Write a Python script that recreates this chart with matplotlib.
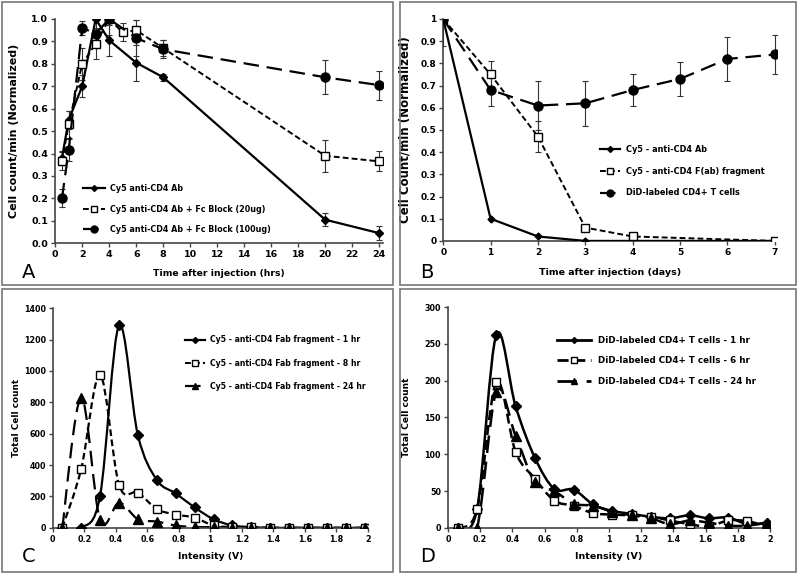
import numpy as np
import matplotlib
matplotlib.use("Agg")
from matplotlib import pyplot as plt
from matplotlib.path import Path
from matplotlib.patches import PathPatch, Rectangle
from matplotlib.lines import Line2D

plt.rcParams['font.family'] = ['DejaVu Sans']
plt.rcParams['font.weight'] = 'bold'

# ---- panel A: hours
a_x1 = [0.5, 1, 2, 3, 4, 6, 8, 20, 24]
a_y1 = [0.38, 0.55, 0.70, 1.0, 0.905, 0.805, 0.74, 0.105, 0.045]
a_e1 = [0.03, 0.04, 0.05, 0.0, 0.07, 0.08, 0.015, 0.03, 0.03]
a_x2 = [0.5, 1, 2, 3, 4, 5, 6, 8, 20, 24]
a_y2 = [0.365, 0.53, 0.80, 0.89, 1.0, 0.94, 0.95, 0.87, 0.39, 0.365]
a_e2 = [0.04, 0.06, 0.07, 0.07, 0.0, 0.04, 0.045, 0.035, 0.072, 0.045]
a_x3 = [0.5, 1, 2, 3, 4, 6, 8, 20, 24]
a_y3 = [0.20, 0.415, 0.96, 0.935, 1.0, 0.915, 0.865, 0.74, 0.705]
a_e3 = [0.04, 0.05, 0.03, 0.06, 0.07, 0.08, 0.04, 0.075, 0.065]
a_labels = ["Cy5 anti-CD4 Ab", "Cy5 anti-CD4 Ab + Fc Block (20ug)",
            "Cy5 anti-CD4 Ab + Fc Block (100ug)"]

# ---- panel B: days
b_x1 = [0, 1, 2, 3, 7]
b_y1 = [1.0, 0.10, 0.02, 0.0, 0.0]
b_x2 = [0, 1, 2, 3, 4, 7]
b_y2 = [1.0, 0.75, 0.47, 0.06, 0.02, 0.0]
b_e2 = [0.0, 0.06, 0.07, 0.0, 0.0, 0.0]
b_x3 = [0, 1, 2, 3, 4, 5, 6, 7]
b_y3 = [1.0, 0.68, 0.61, 0.62, 0.68, 0.73, 0.82, 0.84]
b_e3 = [0.12, 0.07, 0.11, 0.10, 0.07, 0.075, 0.10, 0.09]
b_labels = ["Cy5 - anti-CD4 Ab", "Cy5 - anti-CD4 F(ab) fragment",
            "DiD-labeled CD4+ T cells"]

# ---- panels C, D: intensity histograms
volts = [0.06, 0.18, 0.30, 0.42, 0.54, 0.66, 0.78, 0.90, 1.02, 1.14,
         1.26, 1.38, 1.50, 1.62, 1.74, 1.86, 1.98]
c_1h = [0, 0, 205, 1290, 590, 305, 220, 130, 55, 15, 5, 0, 0, 0, 0, 0, 0]
c_8h = [0, 375, 975, 275, 225, 120, 85, 65, 15, 5, 5, 0, 0, 0, 0, 0, 0]
c_24h = [0, 830, 50, 160, 55, 40, 15, 5, 5, 0, 0, 0, 0, 0, 0, 0, 0]
c_labels = ["Cy5 - anti-CD4 Fab fragment - 1 hr",
            "Cy5 - anti-CD4 Fab fragment - 8 hr",
            "Cy5 - anti-CD4 Fab fragment - 24 hr"]
d_1h = [0, 25, 262, 165, 95, 53, 52, 32, 23, 19, 15, 13, 17, 13, 14, 5, 7]
d_6h = [0, 25, 198, 103, 67, 37, 30, 20, 18, 17, 15, 10, 5, 2, 10, 9, 2]
d_24h = [0, 0, 185, 125, 62, 50, 33, 30, 22, 17, 13, 5, 10, 7, 3, 3, 7]
d_labels = ["DiD-labeled CD4+ T cells - 1 hr",
            "DiD-labeled CD4+ T cells - 6 hr",
            "DiD-labeled CD4+ T cells - 24 hr"]

SHORT = (0, (3, 1.6))
LONG = (0, (7, 3.5))
MED = (0, (4, 2))
v_ticks = ['0', '0.2', '0.4', '0.6', '0.8', '1', '1.2', '1.4', '1.6', '1.8', '2']


def smooth(ax, x, y, ls, lw=1.6):
    # Excel-style smoothed line: cubic bezier through each point
    x = np.asarray(x, float)
    y = np.asarray(y, float)
    n = len(x)
    verts = [(x[0], y[0])]
    codes = [Path.MOVETO]
    for i in range(n - 1):
        p0 = np.array([x[max(i - 1, 0)], y[max(i - 1, 0)]])
        p1 = np.array([x[i], y[i]])
        p2 = np.array([x[i + 1], y[i + 1]])
        p3 = np.array([x[min(i + 2, n - 1)], y[min(i + 2, n - 1)]])
        c1 = p1 + (p2 - p0) / 6
        c2 = p2 - (p3 - p1) / 6
        verts += [tuple(c1), tuple(c2), tuple(p2)]
        codes += [Path.CURVE4] * 3
    ax.add_patch(PathPatch(Path(verts, codes), fill=False, lw=lw,
                           linestyle=ls, edgecolor='black', zorder=2))


def style(ax, tsize, xl, yl, xs, ys, xpos, ypos):
    for s in ['top', 'right']:
        ax.spines[s].set_visible(False)
    for s in ['left', 'bottom']:
        ax.spines[s].set_color('#444444')
        ax.spines[s].set_linewidth(1.2)
    ax.tick_params(direction='out', length=3, width=1, labelsize=tsize,
                   color='#444444', pad=2)
    for t in ax.get_xticklabels() + ax.get_yticklabels():
        t.set_fontweight('bold')
    ax.set_xlabel(xl, fontsize=xs, fontweight='bold')
    ax.set_ylabel(yl, fontsize=ys, fontweight='bold')
    ax.xaxis.set_label_coords(0.5, xpos)
    ax.xaxis.label.set_va('center')
    ax.yaxis.set_label_coords(ypos, 0.5)
    ax.yaxis.label.set_va('center')


def leg(ax, handles, labels, anchor, fs, sp, hl, pad):
    ax.legend(handles, labels, loc='center left', bbox_to_anchor=anchor,
              frameon=False, borderpad=0, borderaxespad=0,
              handlelength=hl, labelspacing=sp, handletextpad=pad,
              prop={'weight': 'bold', 'size': fs})


fig = plt.figure(figsize=(8, 5.75), dpi=100)

for (x0, y0, w, h) in [(2, 2, 391, 283), (400, 2, 396, 283),
                       (2, 289, 391, 283), (400, 289, 396, 283)]:
    fig.patches.append(Rectangle((x0 / 800, 1 - (y0 + h) / 575), w / 800, h / 575,
                                 transform=fig.transFigure, fill=False,
                                 edgecolor='#777777', lw=1.2))

ebk = dict(ecolor='#333333', elinewidth=0.8, capsize=2.5, capthick=0.8)

# ---- A
axA = fig.add_axes([0.069, 0.577, 0.41, 0.39])
axA.errorbar(a_x1, a_y1, yerr=a_e1, color='black', lw=1.6, marker='D', ms=4,
             ls='-', zorder=3, **ebk)
axA.errorbar(a_x2, a_y2, yerr=a_e2, color='black', lw=1.4, marker='s', ms=6,
             mfc='white', ls=SHORT, zorder=3, **ebk)
axA.errorbar(a_x3, a_y3, yerr=a_e3, color='black', lw=1.6, marker='o', ms=6.5,
             ls=LONG, zorder=3, **ebk)
axA.set_xlim(0, 24.3)
axA.set_ylim(0, 1.0)
axA.set_xticks(range(0, 25, 2))
axA.set_yticks(np.arange(0, 1.01, 0.1))
axA.set_yticklabels(['%.1f' % v for v in np.arange(0, 1.01, 0.1)])
style(axA, 6.8, "Time after injection (hrs)", "Cell count/min (Normalized)",
      6.7, 8.0, -0.134, -0.125)
hA = [Line2D([], [], color='k', lw=1.6, marker='D', ms=3),
      Line2D([], [], color='k', lw=1.4, ls=SHORT, marker='s', ms=5, mfc='white'),
      Line2D([], [], color='k', lw=1.6, ls=LONG, marker='o', ms=5)]
leg(axA, hA, a_labels, (0.085, 0.152), 5.8, 1.44, 2.7, 0.6)

# ---- B
axB = fig.add_axes([0.554, 0.581, 0.4175, 0.386])
axB.plot(b_x1, b_y1, color='black', lw=1.6, marker='D', ms=3.5, zorder=3)
axB.errorbar(b_x2, b_y2, yerr=b_e2, color='black', lw=1.4, marker='s', ms=6,
             mfc='white', ls=SHORT, zorder=3, **ebk)
axB.errorbar(b_x3, b_y3, yerr=b_e3, color='black', lw=1.6, marker='o', ms=6.5,
             ls=LONG, zorder=3, **ebk)
axB.set_xlim(0, 7.05)
axB.set_ylim(0, 1.0)
axB.set_xticks(range(0, 8))
axB.set_yticks(np.arange(0, 1.01, 0.1))
axB.set_yticklabels(['0', '0.1', '0.2', '0.3', '0.4', '0.5', '0.6', '0.7',
                     '0.8', '0.9', '1'])
style(axB, 6.5, "Time after injection (days)", "Cell Count/min (Normalized)",
      6.8, 8.5, -0.144, -0.114)
hB = [Line2D([], [], color='k', lw=1.6, marker='D', ms=3),
      Line2D([], [], color='k', lw=1.4, ls=SHORT, marker='s', ms=5, mfc='white'),
      Line2D([], [], color='k', lw=1.6, ls=LONG, marker='o', ms=5)]
leg(axB, hB, b_labels, (0.47, 0.315), 5.9, 1.57, 2.4, 0.8)

# ---- C
axC = fig.add_axes([0.066, 0.082, 0.394, 0.382])
smooth(axC, volts, c_1h, '-')
smooth(axC, volts, c_8h, SHORT)
smooth(axC, volts, c_24h, LONG)
axC.plot(volts, c_1h, ls='none', marker='D', ms=5, color='k', zorder=3)
axC.plot(volts, c_8h, ls='none', marker='s', ms=5.5, color='k', mfc='white', zorder=3)
axC.plot(volts, c_24h, ls='none', marker='^', ms=7, color='k', zorder=3)
axC.set_xlim(0, 2.0)
axC.set_ylim(0, 1400)
axC.set_xticks(np.arange(0, 2.01, 0.2))
axC.set_xticklabels(v_ticks)
axC.set_yticks(range(0, 1401, 200))
style(axC, 5.8, "Intensity (V)", "Total Cell count", 6.7, 6.4, -0.132, -0.114)
hC = [Line2D([], [], color='k', lw=1.6, marker='D', ms=3),
      Line2D([], [], color='k', lw=1.4, ls=SHORT, marker='s', ms=5, mfc='white'),
      Line2D([], [], color='k', lw=1.6, ls=LONG, marker='^', ms=5)]
leg(axC, hC, c_labels, (0.42, 0.75), 5.6, 1.85, 2.6, 0.6)

# ---- D
axD = fig.add_axes([0.56, 0.082, 0.4025, 0.384])
smooth(axD, volts, d_1h, '-', lw=1.8)
smooth(axD, volts, d_6h, MED, lw=1.8)
smooth(axD, volts, d_24h, LONG, lw=1.8)
axD.plot(volts, d_1h, ls='none', marker='D', ms=5, color='k', zorder=3)
axD.plot(volts, d_6h, ls='none', marker='s', ms=6, color='k', mfc='white', zorder=3)
axD.plot(volts, d_24h, ls='none', marker='^', ms=7, color='k', zorder=3)
axD.set_xlim(0, 2.0)
axD.set_ylim(0, 300)
axD.set_xticks(np.arange(0, 2.01, 0.2))
axD.set_xticklabels(v_ticks)
axD.set_yticks(range(0, 301, 50))
style(axD, 5.8, "Intensity (V)", "Total Cell count", 6.8, 6.6, -0.132, -0.13)
hD = [Line2D([], [], color='k', lw=2, marker='D', ms=3),
      Line2D([], [], color='k', lw=2, ls=MED, marker='s', ms=5, mfc='white'),
      Line2D([], [], color='k', lw=2, ls=LONG, marker='^', ms=5)]
leg(axD, hD, d_labels, (0.34, 0.756), 6.3, 1.35, 3.8, 0.8)

# panel letters
for lab, px, py in [('A', 22, 278), ('B', 420, 278), ('C', 22, 562), ('D', 420, 562)]:
    fig.text(px / 800, 1 - py / 575, lab, fontsize=14, fontweight='normal',
             ha='left', va='baseline')

fig.savefig('out.png', dpi=100)
